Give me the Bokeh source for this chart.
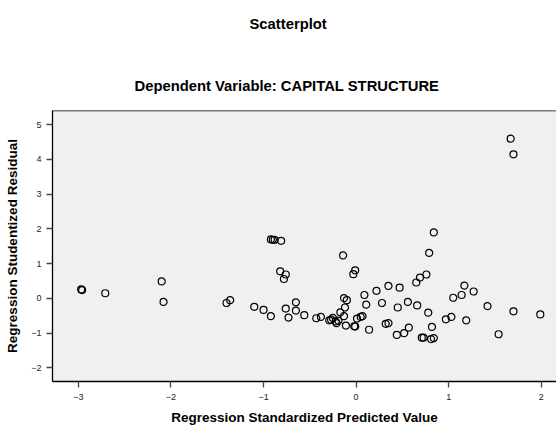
from bokeh.plotting import figure
from bokeh.models import Range1d, FixedTicker, Span, Title
from bokeh.embed import file_html
from bokeh.resources import INLINE

# Data
pred = [-2.97, -2.96, -2.71, -2.10, -2.08, -1.40, -1.36, -1.10, -1.00, -0.92,
        -0.92, -0.90, -0.88, -0.81, -0.82, -0.76, -0.78, -0.76, -0.73, -0.65,
        -0.65, -0.56, -0.43, -0.38, -0.29, -0.27, -0.25, -0.22, -0.21, -0.19,
        -0.17, -0.13, -0.12, -0.13, -0.10, -0.11, -0.02, -0.01, 0.01, 0.05,
        0.07, 0.09, 0.11, 0.14, -0.14, -0.03, -0.01, 0.22, 0.28, 0.32,
        0.35, 0.35, 0.45, 0.47, 0.44, 0.52, 0.57, 0.56, 0.66, 0.65,
        0.69, 0.76, 0.79, 0.84, 0.78, 0.71, 0.73, 0.81, 0.84, 0.82,
        1.67, 1.70, 1.17, 1.14, 1.27, 1.05, 1.42, 1.70, 0.97, 1.03,
        1.19, 1.54, 1.99]
resid = [0.26, 0.24, 0.15, 0.49, -0.10, -0.13, -0.05, -0.24, -0.33, -0.51,
         1.70, 1.69, 1.69, 1.66, 0.78, 0.69, 0.56, -0.29, -0.55, -0.11,
         -0.35, -0.48, -0.57, -0.53, -0.63, -0.61, -0.56, -0.66, -0.71, -0.64,
         -0.40, -0.51, -0.26, 0.01, -0.05, -0.78, -0.80, -0.81, -0.58, -0.53,
         -0.51, 0.10, -0.18, -0.90, 1.24, 0.70, 0.81, 0.22, -0.13, -0.73,
         -0.71, 0.36, -0.26, 0.31, -1.05, -1.00, -0.84, -0.10, -0.20, 0.46,
         0.60, 0.69, 1.31, 1.90, -0.41, -1.13, -1.13, -1.17, -1.14, -0.82,
         4.60, 4.15, 0.37, 0.10, 0.20, 0.02, -0.22, -0.37, -0.60, -0.53,
         -0.63, -1.03, -0.46]

x_ticks = [-3, -2, -1, 0, 1, 2]
y_ticks = [-2, -1, 0, 1, 2, 3, 4, 5]

title_text = "Scatterplot"
subtitle_text = "Dependent Variable: CAPITAL STRUCTURE"
x_label = "Regression Standardized Predicted Value"
y_label = "Regression Studentized Residual"

FONT = "Liberation Sans"
X0, X1 = -3.28, 2.165
Y0, Y1 = -2.39, 5.41

p = figure(width=556, height=427, output_backend="svg", toolbar_location=None,
           x_range=Range1d(X0, X1), y_range=Range1d(Y0, Y1),
           min_border_left=52, min_border_right=0, min_border_top=110,
           min_border_bottom=44)
p.background_fill_color = "#f0f0f0"
p.border_fill_color = "white"
p.outline_line_color = None
p.grid.visible = False

for ax in (p.xaxis[0], p.yaxis[0]):
    ax.axis_line_color = "black"
    ax.axis_line_width = 1.3
    ax.major_tick_line_color = "#444444"
    ax.major_tick_line_width = 1.3
    ax.major_tick_out = 6
    ax.major_tick_in = 0
    ax.minor_tick_line_color = None
    ax.major_label_text_font = FONT
    ax.major_label_text_font_size = "9px"
    ax.major_label_text_color = "#222222"
    ax.axis_label_text_font = FONT
    ax.axis_label_text_font_style = "bold"
    ax.axis_label_text_font_size = "13.5px"
    ax.axis_label_text_color = "black"

p.xaxis[0].ticker = FixedTicker(ticks=x_ticks)
p.yaxis[0].ticker = FixedTicker(ticks=y_ticks)
p.xaxis[0].axis_label = x_label
p.yaxis[0].axis_label = y_label
p.xaxis[0].major_label_standoff = 6
p.xaxis[0].axis_label_standoff = 7
p.yaxis[0].major_label_standoff = 5
p.yaxis[0].axis_label_standoff = 8

p.add_layout(Span(location=Y1, dimension="width", line_color="black", line_width=1.3))

p.scatter(pred, resid, marker="circle", size=7, fill_color=None,
          line_color="black", line_width=1.2)

# subtitle closest to the frame, then the main title above it
p.add_layout(Title(text=subtitle_text, align="left", offset=82, standoff=33,
                   text_font=FONT, text_font_style="bold", text_font_size="14.8px",
                   text_color="black"), "above")
p.add_layout(Title(text=title_text + "\n", align="left", offset=197, standoff=24,
                   text_font=FONT, text_font_style="bold", text_font_size="14.8px",
                   text_color="black"), "above")

open("out.html", "w").write(file_html(p, INLINE))
